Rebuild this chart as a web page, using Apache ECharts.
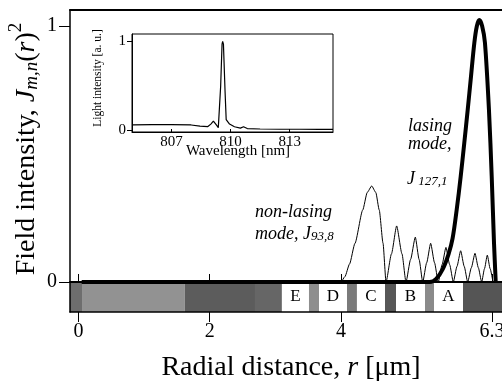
<!DOCTYPE html>
<html><head><meta charset="utf-8">
<script src="https://cdn.jsdelivr.net/npm/echarts@6/dist/echarts.min.js"></script>
<style>html,body{margin:0;padding:0;background:#fff}#c{width:502px;height:383px}</style>
</head><body><div id="c"></div>
<script>
// ---- data ----
const xTicks = [0, 2, 4, 6.3];
const yTicks = [0, 1];
const lasingR = [0.05, 5.35, 5.45, 5.55, 5.64, 5.70, 5.762, 5.823, 5.878, 5.930, 5.980, 6.031, 6.07, 6.107, 6.15, 6.193, 6.254, 6.296, 6.331, 6.357];
const lasingI = [0, 0, 0.012, 0.05, 0.11, 0.17, 0.281, 0.411, 0.543, 0.672, 0.802, 0.934, 1.0, 1.023, 1.0, 0.934, 0.672, 0.411, 0.152, 0];
const nonLasingR = [0.05, 4.0, 4.06, 4.13, 4.213, 4.331, 4.40, 4.468, 4.53, 4.583, 4.640, 4.686,
  4.769, 4.848, 4.929, 4.990, 5.06, 5.132, 5.19, 5.245, 5.305, 5.366, 5.425, 5.482,
  5.54, 5.599, 5.655, 5.711, 5.767, 5.823, 5.877, 5.930, 5.986, 6.041, 6.092, 6.143,
  6.186, 6.229, 6.272, 6.315];
const nonLasingI = [0, 0, 0.021, 0.07, 0.151, 0.281, 0.35, 0.375, 0.35, 0.281, 0.152, 0,
  0.11, 0.219, 0.11, 0, 0.088, 0.175, 0.088, 0, 0.075, 0.151, 0.075, 0,
  0.068, 0.135, 0.068, 0, 0.061, 0.122, 0.061, 0, 0.056, 0.112, 0.056, 0,
  0.052, 0.105, 0.052, 0];
const ringLabels = ['E', 'D', 'C', 'B', 'A'];
const ringStart = [3.10, 3.665, 4.243, 4.838, 5.417];
const ringEnd = [3.51, 4.09, 4.67, 5.28, 5.858];
const shadeStart = [-0.128, 0.055, 1.62, 2.69, 3.51, 4.09, 4.67, 5.28, 5.858];
const shadeEnd = [0.055, 1.62, 2.69, 3.10, 3.665, 4.243, 4.838, 5.417, 6.605];
const insetXTicks = [807, 810, 813];
const insetYTicks = [0, 1];
const wavelength = [805.05, 806, 807, 808, 808.45, 808.85, 809.0, 809.13, 809.28, 809.38, 809.5, 809.57, 809.6, 809.64, 809.72, 809.78, 809.95, 810.2, 810.5, 810.66, 810.85, 811.5, 812.5, 813.5, 814.5, 815.2];
const lightI = [0.06, 0.065, 0.063, 0.06, 0.048, 0.042, 0.07, 0.104, 0.06, 0.03, 0.5, 0.97, 1.0, 0.97, 0.45, 0.12, 0.07, 0.04, 0.025, 0.04, 0.02, 0.015, 0.012, 0.012, 0.01, 0.01];

// ---- styles ----
const shadeColors = ['#6e6e6e', '#929292', '#5c5c5c', '#666666', '#8e8e8e', '#7a7a7a', '#575757', '#8a8a8a', '#555555'];
const SERIF = 'Liberation Serif';
const X_MIN = -0.128, X_MAX = 6.605, Y_MIN = -0.1172, Y_MAX = 1.0625;

const zip = (a, b) => a.map((v, i) => [v, b[i]]);
const areas = [];
shadeStart.forEach((s, i) => areas.push([{ xAxis: s, yAxis: 0, itemStyle: { color: shadeColors[i] }, label: { show: false } }, { xAxis: shadeEnd[i], yAxis: Y_MIN }]));
ringStart.forEach((s, i) => areas.push([{ name: ringLabels[i], xAxis: s, yAxis: 0, itemStyle: { color: '#fff' } }, { xAxis: ringEnd[i], yAxis: Y_MIN }]));

const chart = echarts.init(document.getElementById('c'), null, { renderer: 'canvas' });
chart.setOption({
  animation: false,
  backgroundColor: '#fff',
  grid: [
    { left: 70, top: 10, right: -10, bottom: 71, outerBoundsMode: 'none', containLabel: false, show: false },
    { left: 132, top: 34, width: 201, height: 98, outerBoundsMode: 'none', containLabel: false, show: true, borderColor: '#000', borderWidth: 1, backgroundColor: '#fff', z: 10 }
  ],
  xAxis: [
    { type: 'value', gridIndex: 0, min: X_MIN, max: X_MAX, position: 'bottom', z: 6,
      axisLine: { show: true, onZero: false, lineStyle: { color: '#000', width: 1.5 } },
      axisTick: { show: true, customValues: xTicks, length: 10, lineStyle: { color: '#000', width: 1 } },
      axisLabel: { show: true, customValues: xTicks, margin: 10, fontFamily: SERIF, fontSize: 20, color: '#000' },
      splitLine: { show: false } },
    { type: 'value', gridIndex: 0, min: X_MIN, max: X_MAX, position: 'bottom', z: 6,
      axisLine: { show: true, onZero: true, lineStyle: { color: '#000', width: 2 } },
      axisTick: { show: true, inside: true, customValues: xTicks, length: 8, lineStyle: { color: '#000', width: 1 } },
      axisLabel: { show: false }, splitLine: { show: false } },
    { type: 'value', gridIndex: 0, min: X_MIN, max: X_MAX, position: 'top', z: 6,
      axisLine: { show: true, onZero: false, lineStyle: { color: '#000', width: 2 } },
      axisTick: { show: false }, axisLabel: { show: false }, splitLine: { show: false } },
    { type: 'value', gridIndex: 1, min: 805, max: 815.2, position: 'bottom', z: 12,
      axisLine: { show: true, onZero: false, lineStyle: { color: '#000', width: 1 } },
      axisTick: { show: true, inside: true, customValues: insetXTicks, length: 3, lineStyle: { color: '#000' } },
      axisLabel: { show: true, customValues: insetXTicks, margin: 3, fontFamily: SERIF, fontSize: 15, color: '#000' },
      splitLine: { show: false } }
  ],
  yAxis: [
    { type: 'value', gridIndex: 0, min: Y_MIN, max: Y_MAX, z: 6,
      axisLine: { show: true, onZero: false, lineStyle: { color: '#000', width: 1.5 } },
      axisTick: { show: true, customValues: yTicks, length: 11, lineStyle: { color: '#000', width: 1 } },
      axisLabel: { show: true, customValues: yTicks, margin: 13, fontFamily: SERIF, fontSize: 20, color: '#000' },
      splitLine: { show: false } },
    { type: 'value', gridIndex: 1, min: -0.019, max: 1.083, z: 12,
      axisLine: { show: true, onZero: false, lineStyle: { color: '#000', width: 1 } },
      axisTick: { show: true, customValues: insetYTicks, length: 5, lineStyle: { color: '#000' } },
      axisLabel: { show: true, customValues: insetYTicks, margin: 6, fontFamily: SERIF, fontSize: 15, color: '#000' },
      splitLine: { show: false } }
  ],
  series: [
    { type: 'line', name: 'bar', xAxisIndex: 0, yAxisIndex: 0, data: [], silent: true,
      markArea: { silent: true, itemStyle: { borderWidth: 0 },
        label: { show: true, position: 'inside', fontFamily: SERIF, fontSize: 17, color: '#000' },
        data: areas } },
    { type: 'line', name: 'non-lasing', xAxisIndex: 0, yAxisIndex: 0, data: zip(nonLasingR, nonLasingI), showSymbol: false, smooth: 0.2, smoothMonotone: 'x', z: 4,
      lineStyle: { color: '#000', width: 1 } },
    { type: 'line', name: 'lasing', xAxisIndex: 0, yAxisIndex: 0, data: zip(lasingR, lasingI), showSymbol: false, smooth: 0.3, z: 5,
      lineStyle: { color: '#000', width: 4, join: 'round' } },
    { type: 'line', name: 'spectrum', xAxisIndex: 3, yAxisIndex: 1, data: zip(wavelength, lightI), showSymbol: false, z: 12,
      lineStyle: { color: '#000', width: 1.2 } }
  ],
  graphic: [
    { type: 'text', x: 24, y: 149, rotation: Math.PI / 2, z: 20,
      style: { text: '{n|Field intensity, }{i|J}{sb|m,n}{n|(}{i|r}{n|)}{sp|2}', align: 'center', verticalAlign: 'middle', fill: '#000',
        rich: { n: { fontFamily: SERIF, fontSize: 28, lineHeight: 34, verticalAlign: 'bottom', fill: '#000' },
                i: { fontFamily: SERIF, fontSize: 28, fontStyle: 'italic', lineHeight: 34, verticalAlign: 'bottom', fill: '#000' },
                sb: { fontFamily: SERIF, fontSize: 19, fontStyle: 'italic', lineHeight: 18, verticalAlign: 'bottom', fill: '#000' },
                sp: { fontFamily: SERIF, fontSize: 19, lineHeight: 18, verticalAlign: 'top', fill: '#000' } } } },
    { type: 'text', x: 291, y: 368, z: 20,
      style: { text: '{n|Radial distance, }{i|r}{n| [μm]}', align: 'center', verticalAlign: 'middle', fill: '#000',
        rich: { n: { fontFamily: SERIF, fontSize: 28, fill: '#000' },
                i: { fontFamily: SERIF, fontSize: 28, fontStyle: 'italic', fill: '#000' } } } },
    { type: 'text', x: 98, y: 78, rotation: Math.PI / 2, z: 20,
      style: { text: 'Light intensity [a. u.]', align: 'center', verticalAlign: 'middle', fill: '#000', fontFamily: SERIF, fontSize: 11.5 } },
    { type: 'text', x: 238, y: 151, z: 20,
      style: { text: 'Wavelength [nm]', align: 'center', verticalAlign: 'middle', fill: '#000', fontFamily: SERIF, fontSize: 15 } },
    { type: 'text', x: 408, y: 126, z: 20,
      style: { text: 'lasing', align: 'left', verticalAlign: 'middle', fill: '#000', fontFamily: SERIF, fontSize: 18, fontStyle: 'italic' } },
    { type: 'text', x: 408, y: 144, z: 20,
      style: { text: 'mode,', align: 'left', verticalAlign: 'middle', fill: '#000', fontFamily: SERIF, fontSize: 18, fontStyle: 'italic' } },
    { type: 'text', x: 407, y: 177, z: 20,
      style: { text: '{i|J}{sb| 127,1}', align: 'left', verticalAlign: 'middle', fill: '#000',
        rich: { i: { fontFamily: SERIF, fontSize: 18, fontStyle: 'italic', lineHeight: 22, verticalAlign: 'bottom', fill: '#000' },
                sb: { fontFamily: SERIF, fontSize: 13, fontStyle: 'italic', lineHeight: 13, verticalAlign: 'bottom', fill: '#000' } } } },
    { type: 'text', x: 255, y: 212, z: 20,
      style: { text: 'non-lasing', align: 'left', verticalAlign: 'middle', fill: '#000', fontFamily: SERIF, fontSize: 18, fontStyle: 'italic' } },
    { type: 'text', x: 255, y: 232, z: 20,
      style: { text: '{i|mode, J}{sb|93,8}', align: 'left', verticalAlign: 'middle', fill: '#000',
        rich: { i: { fontFamily: SERIF, fontSize: 18, fontStyle: 'italic', lineHeight: 22, verticalAlign: 'bottom', fill: '#000' },
                sb: { fontFamily: SERIF, fontSize: 13, fontStyle: 'italic', lineHeight: 13, verticalAlign: 'bottom', fill: '#000' } } } }
  ]
});
</script>
</body></html>
